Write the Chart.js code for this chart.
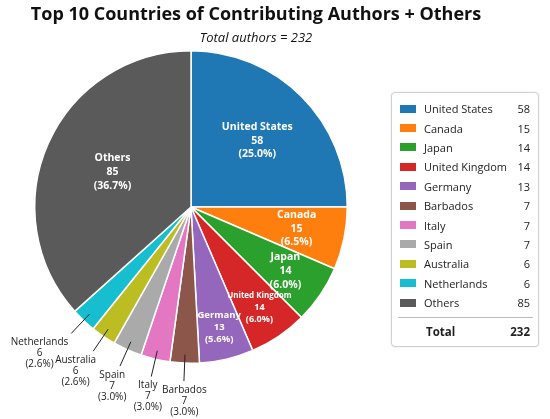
<!DOCTYPE html>
<html>
<head>
<meta charset="utf-8">
<script src="https://cdn.jsdelivr.net/npm/chart.js@4"></script>
<style>
  html, body { margin: 0; padding: 0; background: #fff; }
  #wrap { position: relative; width: 550px; height: 419px; overflow: hidden; font-family: "Open Sans", sans-serif; }
  #myChart { position: absolute; left: 0; top: 0; }
  #title { position: absolute; left: 0; top: 1px; width: 512px; text-align: center; font-weight: bold; font-size: 18px; color: #111; }
  #subtitle { position: absolute; left: 0; top: 28px; width: 512px; text-align: center; font-style: italic; font-size: 13px; color: #111; }
  #legend { position: absolute; left: 391px; top: 92px; width: 148px; height: 255px; border: 1px solid #d0d0d0; border-radius: 4px;
            box-shadow: 0 0 2px rgba(0,0,0,0.12); background: #fff; font-size: 11px; color: #222; box-sizing: border-box; padding: 6px 8px 0 8px; }
  .row { display: flex; align-items: center; height: 19.4px; }
  .sw { width: 16px; height: 8px; margin-right: 8px; flex: none; }
  .name { flex: 1; white-space: nowrap; }
  .val { text-align: right; }
  .sep { border-top: 1px solid #bbb; margin: 5px -3px 0 -2px; }
  .total { display: flex; height: 20px; align-items: center; margin-top: 3px; font-weight: bold; font-size: 11.5px; }
  .total .name { padding-left: 26px; }
</style>
</head>
<body>
<div id="wrap">
  <canvas id="myChart" width="550" height="419"></canvas>
  <div id="title">Top 10 Countries of Contributing Authors + Others</div>
  <div id="subtitle">Total authors = 232</div>
  <div id="legend"></div>
</div>
<script>
const countries = ['United States', 'Canada', 'Japan', 'United Kingdom', 'Germany', 'Barbados', 'Italy', 'Spain', 'Australia', 'Netherlands', 'Others']
const authors = [58, 15, 14, 14, 13, 7, 7, 7, 6, 6, 85]
const sliceColors = ['#1f77b4', '#ff7f0e', '#2ca02c', '#d62728', '#9467bd', '#8c564b', '#e377c2', '#aaaaaa', '#bcbd22', '#17becf', '#5a5a5a']

const total = authors.reduce((a, b) => a + b, 0)

// top 10 rounded to one decimal, Others takes the remainder
let pctText = authors.map(v => (v / total * 100).toFixed(1))
const lastIdx = pctText.length - 1
pctText[lastIdx] = (100 - pctText.slice(0, lastIdx).reduce((a, b) => a + parseFloat(b), 0)).toFixed(1)

// label placement for each slice (inside: radius fraction, outside: leader line)
const insideLabel = {
  0: { r: 0.6, size: 10.5, nameSize: 10.5 },
  1: { r: 0.69, size: 10.5, nameSize: 10.5 },
  2: { r: 0.73, size: 10.5, nameSize: 10.5 },
  3: { r: 0.78, size: 9, nameSize: 8 },
  4: { r: 0.79, size: 9.5, nameSize: 9.5 },
  10: { r: 0.55, size: 10.5, nameSize: 10.5 }
}

const sliceLabels = {
  id: 'sliceLabels',
  afterDatasetsDraw(chart) {
    const ctx = chart.ctx
    const arcs = chart.getDatasetMeta(0).data
    ctx.save()
    ctx.textAlign = 'center'
    ctx.textBaseline = 'middle'
    arcs.forEach((arc, i) => {
      const p = arc.getProps(['x', 'y', 'startAngle', 'endAngle', 'outerRadius'], true)
      const a = (p.startAngle + p.endAngle) / 2
      const c = Math.cos(a), s = Math.sin(a)
      const lines = [countries[i], String(authors[i]), '(' + pctText[i] + '%)']
      const ins = insideLabel[i]
      if (ins) {
        const cx = p.x + c * p.outerRadius * ins.r
        const cy = p.y + s * p.outerRadius * ins.r
        const gap = ins.size * 1.3
        ctx.fillStyle = '#ffffff'
        ctx.font = 'bold ' + ins.nameSize + 'px "Open Sans"'
        ctx.fillText(lines[0], cx, cy - gap)
        ctx.font = 'bold ' + ins.size + 'px "Open Sans"'
        ctx.fillText(lines[1], cx, cy)
        ctx.fillText(lines[2], cx, cy + gap)
      } else {
        const x0 = p.x + c * p.outerRadius * 0.945
        const y0 = p.y + s * p.outerRadius * 0.945
        const x1 = p.x + c * p.outerRadius * 1.115
        const y1 = p.y + s * p.outerRadius * 1.115
        ctx.strokeStyle = '#222'
        ctx.lineWidth = 1
        ctx.beginPath()
        ctx.moveTo(x0, y0)
        ctx.lineTo(x1, y1)
        ctx.stroke()
        ctx.font = '10px "Open Sans"'
        ctx.fillStyle = '#222'
        const w = Math.max(...lines.map(t => ctx.measureText(t).width))
        const tx = x1 + c * w * 0.85 + 2
        const ty = y1 + 9
        lines.forEach((t, k) => ctx.fillText(t, tx, ty + k * 11))
      }
    })
    ctx.restore()
  }
}

const buildLegend = () => {
  const box = document.getElementById('legend')
  let html = ''
  countries.forEach((name, i) => {
    html += '<div class="row"><span class="sw" style="background:' + sliceColors[i] + '"></span>' +
            '<span class="name">' + name + '</span><span class="val">' + authors[i] + '</span></div>'
  })
  html += '<div class="sep"></div>'
  html += '<div class="total"><span class="name">Total</span><span class="val">' + total + '</span></div>'
  box.innerHTML = html
}//endBuildLegend

const plotChart = () => {
  const datas = {
    labels: countries,
    datasets: [{
      data: authors,
      backgroundColor: sliceColors,
      borderColor: '#ffffff',
      borderWidth: 1.5
    }]
  }

  const config = {
    type: 'pie',
    data: datas,
    options: {
      responsive: false,
      animation: false,
      layout: { padding: { left: 34, right: 202, top: 50, bottom: 55 } },
      plugins: {
        legend: { display: false },
        tooltip: { enabled: false }
      }
    },
    plugins: [sliceLabels]
  }

  const ctx = document.getElementById('myChart')
  new Chart(ctx, config)
}//endPlotChart

buildLegend()
plotChart()
</script>
</body>
</html>
